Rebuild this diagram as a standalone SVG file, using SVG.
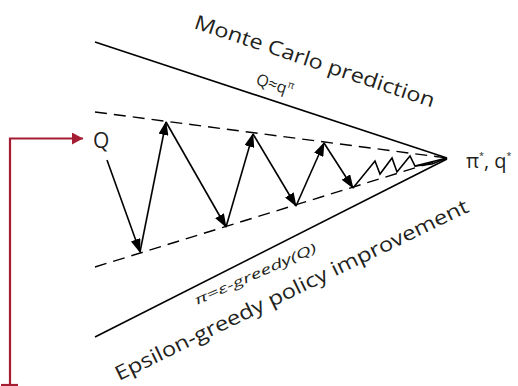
<svg xmlns="http://www.w3.org/2000/svg" width="518" height="386" viewBox="0 0 518 386">
<defs>
<style>
.solid{stroke:#000;stroke-width:1.6;fill:none}
.dash{stroke:#000;stroke-width:1.4;fill:none;stroke-dasharray:12 7}
.arr{stroke:#000;stroke-width:1.6;fill:none;marker-end:url(#ah)}
.red{stroke:#a51d33;stroke-width:2.2;fill:none}
.t{font-family:"Open Sans","Liberation Sans",sans-serif;fill:#231f20}
</style>
<marker id="ah" viewBox="0 0 14 10" refX="13" refY="5" markerWidth="14" markerHeight="10" markerUnits="userSpaceOnUse" orient="auto">
<path d="M0,0 L14,5 L0,10 Z" fill="#000"/>
</marker>
<marker id="rah" viewBox="0 0 11 12" refX="11" refY="6" markerWidth="11" markerHeight="12" markerUnits="userSpaceOnUse" orient="auto">
<path d="M0,0 L11,6 L0,12 Z" fill="#a51d33"/>
</marker>
</defs>
<g id="bounds">
<line class="solid" x1="95" y1="42" x2="447" y2="158"/>
<line class="solid" x1="95" y1="337" x2="447" y2="159"/>
<line class="dash" x1="95" y1="112" x2="447" y2="158"/>
<line class="dash" x1="95" y1="267" x2="447" y2="158"/>
</g>
<g id="connectors">
<line class="arr" x1="107" y1="160" x2="140" y2="252"/>
<line class="arr" x1="140" y1="252" x2="166" y2="122"/>
<line class="arr" x1="166" y1="122" x2="226" y2="227"/>
<line class="arr" x1="226" y1="227" x2="253" y2="134"/>
<line class="arr" x1="253" y1="134" x2="296" y2="206"/>
<line class="arr" x1="296" y1="206" x2="324" y2="143"/>
<line class="arr" x1="324" y1="143" x2="353" y2="188"/>
<polyline class="solid" points="353,188 375,161 380,174 392,158 397,172 410,156 415,166 447,158"/>
<polyline class="solid" stroke-width="1.2" points="415,166 432,164 447,158"/>
<path class="red" d="M10,386 V138.5 H83" marker-end="url(#rah)"/>
<line class="red" x1="1" y1="385" x2="18" y2="385"/>
</g>
<g id="Q"><text class="t" x="93" y="148" font-size="21">Q</text></g>
<g id="optimum"><text class="t" x="466" y="168" font-size="20">π<tspan font-size="9" dy="-9">*</tspan><tspan dy="9">, q</tspan><tspan font-size="9" dy="-9">*</tspan></text></g>
<g id="mc"><text class="t" font-size="20" transform="translate(193,28) rotate(18.4)" textLength="252" lengthAdjust="spacingAndGlyphs">Monte Carlo prediction</text>
<text class="t" font-size="16" transform="translate(255,84) rotate(18.4)">Q≈q<tspan font-size="10" dy="-7">π</tspan></text></g>
<g id="eps"><text class="t" font-size="20" transform="translate(119,381) rotate(-25.8)" textLength="390" lengthAdjust="spacingAndGlyphs">Epsilon-greedy policy improvement</text>
<text class="t" font-size="13" font-style="italic" transform="translate(197,305) rotate(-24)" textLength="132" lengthAdjust="spacingAndGlyphs">π=ε-greedy(Q)</text></g>
</svg>
